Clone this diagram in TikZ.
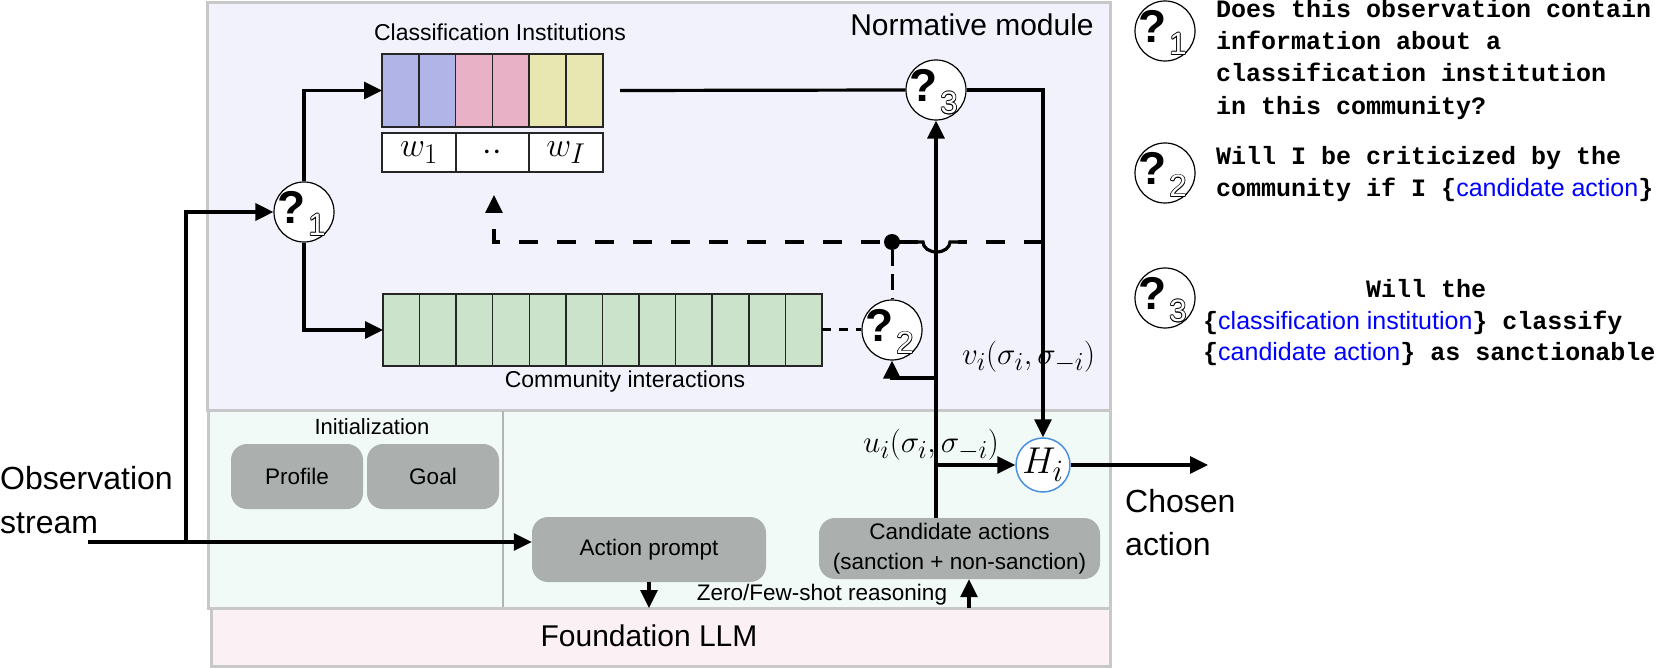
\documentclass[tikz,border=0pt]{standalone}
\usepackage{fontspec}
\usepackage{graphicx}
\setmainfont{Liberation Sans}
\setmonofont{Liberation Mono}
\usetikzlibrary{arrows.meta}
\definecolor{normbg}{HTML}{F2F2FC}
\definecolor{lowbg}{HTML}{F1FAF7}
\definecolor{llmbg}{HTML}{FBF0F4}
\definecolor{framegray}{HTML}{C8C8C8}
\definecolor{cellblue}{HTML}{B0B4E6}
\definecolor{cellpink}{HTML}{E8B1C5}
\definecolor{cellyel}{HTML}{E8E7B1}
\definecolor{cellgreen}{HTML}{CCE3CB}
\definecolor{boxgray}{HTML}{ABAFAD}
\definecolor{hblue}{HTML}{4A90E2}
\definecolor{qblue}{HTML}{0000FF}
\newcommand\bl[1]{{\rmfamily\mdseries\color{qblue}#1}}
\newcommand\mscale[2]{{\fontsize{24.88}{30}\selectfont\scalebox{#1}{$#2$}}}
\newcommand\qnode[3]{%
  \node[qcircle] (#1) at (#2) {};
  \node[qmark] (#1m) at ([shift={(-12,-5)}]#1.center) {?};
  \foreach \a in {0,45,...,315}
    \node[qdigit, shift={(\a:0.8)}] (#1o\a) at ([shift={(13,13)}]#1.center) {#3};
  \node[qdigit, text=white] (#1d) at ([shift={(13,13)}]#1.center) {#3};
}
\begin{document}
\begin{tikzpicture}[x=1pt,y=-1pt,
  panel/.style={rectangle, draw=framegray, line width=3pt, inner sep=0pt, outer sep=0pt, anchor=north west},
  cellbox/.style={rectangle, draw=black!85, line width=1.5pt, inner sep=0pt, outer sep=0pt},
  graybox/.style={rectangle, rounded corners=16pt, fill=boxgray, inner sep=0pt, align=center, font=\fontsize{22.5}{30}\selectfont},
  wire/.style={line width=3.2pt},
  arr/.style={line width=3.2pt, -{Triangle[length=18pt,width=17pt]}},
  dashline/.style={line width=3.2pt, dash pattern=on 19pt off 19pt},
  qcircle/.style={circle, draw, line width=1.2pt, minimum size=60pt, inner sep=0pt, fill=white},
  qmark/.style={inner sep=0pt, font=\fontsize{46}{50}\selectfont\bfseries},
  qdigit/.style={inner sep=0pt, font=\fontsize{31}{34}\selectfont},
  lbl/.style={inner sep=0pt},
  mathlbl/.style={inner sep=0pt},
  legend/.style={inner sep=0pt, anchor=base west, font=\fontsize{25}{30}\selectfont\ttfamily\bfseries}
]
\useasboundingbox (0,0) rectangle (1663,668);

% panels
\node[panel, fill=lowbg, minimum width=902pt, minimum height=198pt] (lower) at (208,410) {};
\node[panel, fill=llmbg, minimum width=899pt, minimum height=58pt] (llm) at (211,608) {};
\node[panel, fill=normbg, minimum width=903pt, minimum height=407pt] (norm) at (207,3) {};
\draw[line width=2pt, draw=framegray!90!black] (503,411) -- (503,607);

% titles
\node[lbl, font=\fontsize{30}{36}\selectfont] (normtitle) at (972,25) {Normative module};
\node[lbl, font=\fontsize{23}{28}\selectfont] (cititle) at (500,32) {Classification Institutions};
\node[lbl, font=\fontsize{23}{28}\selectfont] (comtitle) at (625,382) {Community interactions};
\node[lbl, font=\fontsize{22}{28}\selectfont] (inittitle) at (372,427) {Initialization};
\node[lbl, font=\fontsize{30}{36}\selectfont] (llmtitle) at (649,636) {Foundation LLM};
\node[lbl, font=\fontsize{22.5}{28}\selectfont] (zfs) at (822,595) {Zero/Few-shot reasoning};

% classification cells
\foreach \i/\c in {1/cellblue,2/cellblue,3/cellpink,4/cellpink,5/cellyel,6/cellyel}
  \node[cellbox, fill=\c, minimum width=36.8pt, minimum height=73pt] (c\i) at ({382+36.8*(\i-0.5)},90.5) {};
\node[cellbox, fill=white, minimum width=74pt, minimum height=39pt] (w1) at (419,152.5) {\mscale{1.38}{w_1}};
\node[cellbox, fill=white, minimum width=73pt, minimum height=39pt] (w2) at (492.5,152.5) {\mscale{1.38}{\cdot\cdot}};
\node[cellbox, fill=white, minimum width=74pt, minimum height=39pt] (w3) at (566,152.5) {\mscale{1.38}{w_I}};

% community cells
\foreach \i in {1,...,12}
  \node[cellbox, fill=cellgreen, minimum width=36.58pt, minimum height=72pt] (g\i) at ({383+36.58*(\i-0.5)},330) {};

% gray boxes
\node[graybox, minimum width=132pt, minimum height=65pt] (profile) at (297,476.5) {Profile};
\node[graybox, minimum width=132pt, minimum height=65pt] (goal) at (433,476.5) {Goal};
\node[graybox, minimum width=234pt, minimum height=65pt] (act) at (649,549.5) {Action prompt};
\node[graybox, minimum width=281pt, minimum height=61pt] (cand) at (959.5,548.5) {Candidate actions\\(sanction + non-sanction)};

% question nodes
\qnode{q1}{304,212}{1}
\qnode{q2}{892,330}{2}
\qnode{q3}{936,90}{3}

% H node
\node[circle, draw=hblue, line width=1.5pt, fill=white, minimum size=54pt, inner sep=0pt] (H) at (1043,465) {\mscale{1.5}{H_i}};

% outside texts
\node[lbl, align=left, anchor=west, font=\fontsize{32}{44}\selectfont] (obs) at (0,500) {Observation\\stream};
\node[lbl, align=left, anchor=west, font=\fontsize{32}{43}\selectfont] (chosen) at (1125,523) {Chosen\\action};
\node[mathlbl, anchor=west] (vlbl) at (962,357) {\mscale{1.25}{v_i(\sigma_i,\sigma_{-i})}};
\node[mathlbl, anchor=east] (ulbl) at (999,445) {\mscale{1.25}{u_i(\sigma_i,\sigma_{-i})}};

% coordinates
\coordinate (obs0) at (88,542);
\coordinate (obsB) at (186,542);
\coordinate (j2) at (936,378);
\coordinate (dashR) at (1043,242);
\coordinate (hopR) at (958,242);
\coordinate (hopL) at (918,242);
\coordinate (dashC) at (494,242);
\coordinate (dashT) at (494,195);
\coordinate (upb) at (969,608);
\coordinate (outend) at (1208,465);
\coordinate (cellsR) at (620,90.5);
\node[circle, fill=black, minimum size=16pt, inner sep=0pt] (dot) at (892,242) {};

% connectors
\draw[arr] (obs0) -- (obs0 -| act.west);
\draw[arr] (obsB) |- (q1.west);
\draw[arr] (q1.north) |- (c1.west);
\draw[arr] (q1.south) |- (g1.west);
\draw[wire] (cellsR) -- (q3.west);
\draw[arr] (q3.east) -| (H.north);
\draw[arr] (cand.north -| q3.south) -- (q3.south);
\draw[arr] (q3 |- H) -- (H.west);
\draw[wire] (j2) -| ([yshift=-14pt]q2.south);
\draw[arr] ([yshift=-16pt]q2.south) -- (q2.south);
\draw[arr] (H.east) -- (outend);
\draw[arr] (act.south) -- (act.south |- llm.north);
\draw[arr] (upb) -- (upb |- cand.south);
\draw[line width=3pt, dash pattern=on 9pt off 8pt] (g12.east) -- (q2.west);
\draw[line width=3pt, dash pattern=on 16pt off 8pt] (dot) -- (q2.north);
\draw[dashline] (dashR) -- (hopR);
\draw[wire] (hopR) -- (950,242) arc[start angle=0, end angle=180, x radius=13.5, y radius=10] -- (hopL);
\draw[dashline, -{Triangle[length=18pt,width=17pt]}] (hopL) -- (dashC) -- (dashT);

% legend
\qnode{l1}{1165,31}{1}
\qnode{l2}{1165,173}{2}
\qnode{l3}{1165,298}{3}
\node[legend] (t1a) at (1216,18) {Does this observation contain};
\node[legend] (t1b) at (1216,50) {information about a};
\node[legend] (t1c) at (1216,82) {classification institution};
\node[legend] (t1d) at (1216,115) {in this community?};
\node[legend] (t2a) at (1216,165) {Will I be criticized by the};
\node[legend] (t2b) at (1216,197) {community if I \{\bl{candidate action}\}};
\node[legend, anchor=base] (t3a) at (1426,298) {Will the};
\node[legend] (t3b) at (1203,330) {\{\bl{classification institution}\} classify};
\node[legend] (t3c) at (1203,360) {\{\bl{candidate action}\} as sanctionable};
\end{tikzpicture}
\end{document}
